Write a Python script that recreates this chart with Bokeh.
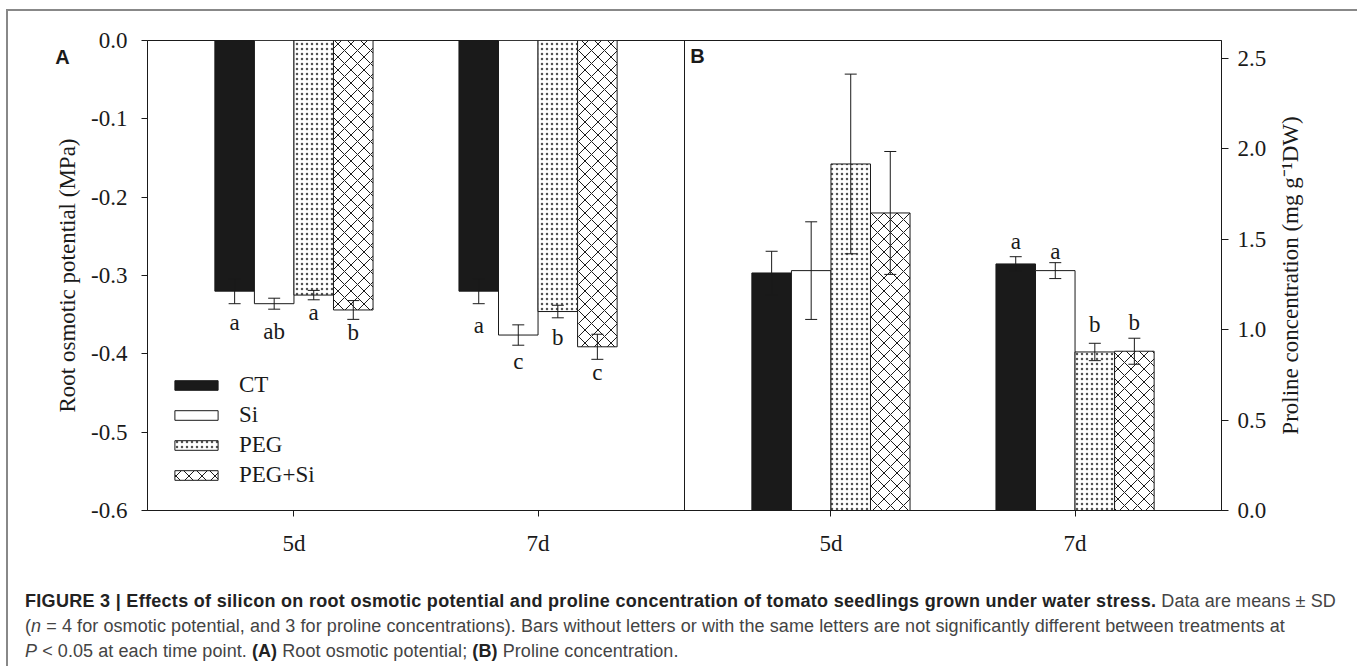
import math
from bokeh.plotting import figure
from bokeh.models import (Range1d, LinearAxis, FixedTicker, PrintfTickFormatter, Span, Label,
                          Legend, LegendItem, ColumnDataSource, Div)
from bokeh.layouts import column, row
from bokeh.embed import file_html
from bokeh.resources import INLINE
from bokeh.core.properties import value

# ---------------- data ----------------
days = ["5d", "7d"]
treatments = ["CT", "Si", "PEG", "PEG+Si"]

# Panel A: root osmotic potential (MPa), means and SD
osm_5d = [-0.320, -0.336, -0.325, -0.344]
osm_7d = [-0.320, -0.376, -0.346, -0.391]
osm_sd_5d = [0.016, 0.007, 0.006, 0.012]
osm_sd_7d = [0.016, 0.013, 0.008, 0.016]
osm_letters_5d = ["a", "ab", "a", "b"]
osm_letters_7d = ["a", "c", "b", "c"]
osm_letter_y_5d = [-0.360, -0.372, -0.347, -0.373]
osm_letter_y_7d = [-0.364, -0.410, -0.379, -0.424]

# Panel B: proline concentration (mg g-1 DW), means and SD
pro_5d = [1.314, 1.327, 1.917, 1.646]
pro_7d = [1.364, 1.327, 0.877, 0.881]
pro_sd_5d = [0.120, 0.270, 0.497, 0.340]
pro_sd_7d = [0.040, 0.044, 0.048, 0.072]
pro_letters_7d = ["a", "a", "b", "b"]
pro_letter_y_7d = [1.486, 1.434, 1.030, 1.038]

osm_ticks = [-0.6, -0.5, -0.4, -0.3, -0.2, -0.1, 0.0]
pro_ticks = [0.0, 0.5, 1.0, 1.5, 2.0, 2.5]

osm_title = "Root osmotic potential (MPa)"
pro_title = "Proline concentration (mg g\u207b\u00b9DW)"

# ---------------- layout constants ----------------
INK = "#1a1a1a"
SERIF = "Liberation Serif"
FS = "23px"
FIG_H = 570
FRAME_H = 470
group_A = [1.0, 2.0]
group_B = [g + 2.2 for g in group_A]
bar_w = 0.162
offs = [(i - 1.5) * bar_w for i in range(4)]

styles = {
    "CT": dict(fill_color=INK),
    "Si": dict(fill_color="white"),
    "PEG": dict(fill_color="white", hatch_pattern=".", hatch_scale=5, hatch_weight=0.5,
                hatch_color=INK, hatch_alpha=0.75),
    "PEG+Si": dict(fill_color="white", hatch_pattern="x", hatch_scale=13, hatch_weight=1, hatch_color=INK),
}

p = figure(width=1193, height=FIG_H, x_range=Range1d(0.4, 4.8), y_range=Range1d(-0.6, 0.0),
           output_backend="svg", toolbar_location=None,
           min_border_left=63, min_border_right=56, min_border_top=29, min_border_bottom=71)
p.extra_y_ranges = {"B": Range1d(0.0, 2.6)}
p.grid.visible = False
p.outline_line_color = INK
p.outline_line_width = 1
p.background_fill_color = "white"
p.border_fill_color = "white"

def style_axis(ax):
    ax.axis_line_color = INK
    ax.major_tick_line_color = INK
    ax.major_tick_out = 6
    ax.major_tick_in = 0
    ax.minor_tick_out = 0
    ax.minor_tick_in = 0
    ax.major_label_text_font = SERIF
    ax.major_label_text_font_size = FS
    ax.major_label_text_color = INK

ya = p.yaxis[0]
style_axis(ya)
ya.ticker = FixedTicker(ticks=osm_ticks)
ya.formatter = PrintfTickFormatter(format="%.1f")
ya.major_label_standoff = 14

xa = p.xaxis[0]
style_axis(xa)
xt = group_A + group_B
xa.ticker = FixedTicker(ticks=xt)
xa.major_label_overrides = {t: d for t, d in zip(xt, days + days)}
xa.major_label_standoff = 14

yb = LinearAxis(y_range_name="B", ticker=FixedTicker(ticks=pro_ticks),
                formatter=PrintfTickFormatter(format="%.1f"))
style_axis(yb)
yb.major_tick_out = 7
yb.major_label_standoff = 9
p.add_layout(yb, "right")

p.add_layout(Span(location=2.6, dimension="height", line_color=INK, line_width=1))

# ---------------- bars ----------------
legend_items = []
for i, t in enumerate(treatments):
    srcA = ColumnDataSource(dict(x=[g + offs[i] for g in group_A], top=[0.0, 0.0],
                                 bottom=[osm_5d[i], osm_7d[i]]))
    rA = p.vbar(x="x", top="top", bottom="bottom", width=bar_w, source=srcA,
                line_color=INK, line_width=1, **styles[t])
    srcB = ColumnDataSource(dict(x=[g + offs[i] for g in group_B], top=[pro_5d[i], pro_7d[i]],
                                 bottom=[0.0, 0.0]))
    p.vbar(x="x", top="top", bottom="bottom", width=bar_w, source=srcB, y_range_name="B",
           line_color=INK, line_width=1, **styles[t])
    legend_items.append(LegendItem(label=t, renderers=[rA]))

# ---------------- error bars (mean ± SD) ----------------
def err_source(groups, v5, v7, s5, s7):
    xs, lo, hi = [], [], []
    for i in range(4):
        for g, v, s in ((groups[0], v5[i], s5[i]), (groups[1], v7[i], s7[i])):
            xs.append(g + offs[i]); lo.append(v - s); hi.append(v + s)
    return ColumnDataSource(dict(x=xs, lo=lo, hi=hi))

for src, rng in ((err_source(group_A, osm_5d, osm_7d, osm_sd_5d, osm_sd_7d), "default"),
                 (err_source(group_B, pro_5d, pro_7d, pro_sd_5d, pro_sd_7d), "B")):
    p.segment(x0="x", y0="lo", x1="x", y1="hi", source=src, line_color=INK, line_width=1,
              y_range_name=rng)
    p.scatter(x="x", y="lo", source=src, marker="dash", size=12, line_color=INK, line_width=1,
              y_range_name=rng)
    p.scatter(x="x", y="hi", source=src, marker="dash", size=12, line_color=INK, line_width=1,
              y_range_name=rng)

# ---------------- significance letters ----------------
lx, ly, lt = [], [], []
for i in range(4):
    lx += [group_A[0] + offs[i], group_A[1] + offs[i]]
    ly += [osm_letter_y_5d[i], osm_letter_y_7d[i]]
    lt += [osm_letters_5d[i], osm_letters_7d[i]]
p.text(x=lx, y=ly, text=lt, text_font=value(SERIF), text_font_size=FS, text_color=INK,
       text_align="center", text_baseline="middle")
p.text(x=[group_B[1] + o for o in offs], y=pro_letter_y_7d, text=pro_letters_7d,
       text_font=value(SERIF), text_font_size=FS, text_color=INK,
       text_align="center", text_baseline="middle", y_range_name="B")

p.add_layout(Label(x=2.653, y=-0.02, text="B", text_font="Liberation Sans", text_font_style="bold",
                   text_font_size="20px", text_color=INK, text_align="center", text_baseline="middle"))

legend = Legend(items=legend_items, location=(22, 22), padding=0, margin=0, spacing=4,
                glyph_width=54, glyph_height=12, label_standoff=16,
                label_text_font=SERIF, label_text_font_size=FS, label_text_color=INK,
                border_line_color=None, background_fill_alpha=0)
p.add_layout(legend)

# ---------------- side strips holding panel letter and axis titles ----------------
# (their frames are aligned with the main frame, so y runs 0..FRAME_H from frame bottom)
def side_fig(w):
    f = figure(width=w, height=FIG_H, x_range=Range1d(0, w), y_range=Range1d(0, FRAME_H),
               x_axis_type=None, y_axis_type=None, output_backend="svg", toolbar_location=None,
               min_border=0)
    f.outline_line_color = None
    f.background_fill_color = "white"
    f.border_fill_color = "white"
    return f

lf = side_fig(76)
lf.text(x=[54], y=[454], text=["A"], text_font=value("Liberation Sans"), text_font_style="bold",
        text_font_size="20px", text_color=INK, text_align="center", text_baseline="middle")
lf.text(x=[59], y=[235], text=[osm_title], angle=math.pi / 2, text_font=value(SERIF),
        text_font_size=FS, text_color=INK, text_align="center", text_baseline="middle")

rf = side_fig(76)
rf.text(x=[13], y=[235], text=[pro_title], angle=math.pi / 2, text_font=value(SERIF),
        text_font_size=FS, text_color=INK, text_align="center", text_baseline="middle")

caption_html = (
    '<div style="font-family:\'Liberation Sans\',Arial,sans-serif;font-size:18px;line-height:25px;'
    'letter-spacing:0.08px;color:#444;white-space:nowrap;margin:3px 0 0 12px;">'
    '<span style="font-weight:bold;color:#222;letter-spacing:0.3px">FIGURE 3 | Effects of silicon on root '
    'osmotic potential and proline concentration of tomato seedlings grown under water stress.</span> '
    'Data are means \u00b1 SD<br>'
    '(<i>n</i> = 4 for osmotic potential, and 3 for proline concentrations). Bars without letters or with '
    'the same letters are not significantly different between treatments at<br>'
    '<i>P</i> &lt; 0.05 at each time point. <b style="color:#222">(A)</b> Root osmotic potential; '
    '<b style="color:#222">(B)</b> Proline concentration.</div>'
)
cap = Div(text=caption_html, width=1345, height=84)

lay = column(row(lf, p, rf), cap, margin=(9, 0, 0, 6),
             styles={"border-top": "2px solid #888", "border-left": "2px solid #888",
                     "border-right": "2px solid #888"})

open("out.html", "w").write(file_html(lay, INLINE))
